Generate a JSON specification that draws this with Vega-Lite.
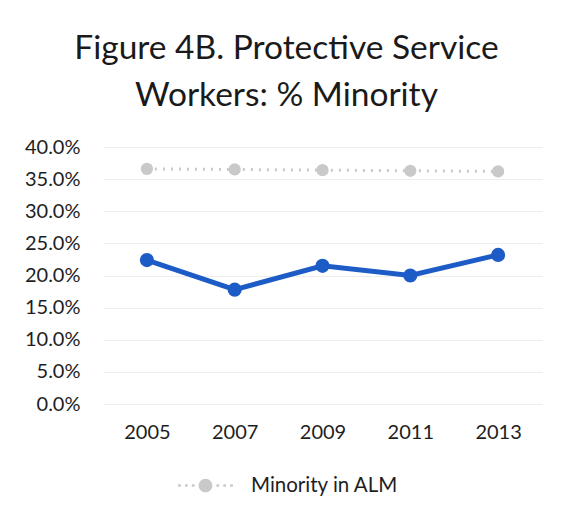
{
  "$schema": "https://vega.github.io/schema/vega-lite/v6.json",
  "width": 439,
  "height": 257,
  "autosize": {"type": "none"},
  "padding": {"left": 103, "top": 147, "right": 23, "bottom": 112},
  "background": "#ffffff",
  "config": {
    "font": "Lato",
    "view": {"stroke": null}
  },
  "title": {
    "text": ["Figure 4B. Protective Service", "Workers: % Minority"],
    "font": "Lato",
    "fontSize": 33.5,
    "fontWeight": "normal",
    "color": "#1a1a1a",
    "lineHeight": 47,
    "anchor": "middle",
    "frame": "group",
    "dx": -36,
    "offset": 24
  },
  "data": {
    "values": [
      {"year": "2005", "series": "Minority in ALM", "value": 0.366},
      {"year": "2007", "series": "Minority in ALM", "value": 0.365},
      {"year": "2009", "series": "Minority in ALM", "value": 0.364},
      {"year": "2011", "series": "Minority in ALM", "value": 0.363},
      {"year": "2013", "series": "Minority in ALM", "value": 0.362},
      {"year": "2005", "series": "Protective Service Workers", "value": 0.224},
      {"year": "2007", "series": "Protective Service Workers", "value": 0.178},
      {"year": "2009", "series": "Protective Service Workers", "value": 0.215},
      {"year": "2011", "series": "Protective Service Workers", "value": 0.200},
      {"year": "2013", "series": "Protective Service Workers", "value": 0.232}
    ]
  },
  "encoding": {
    "x": {
      "field": "year",
      "type": "ordinal",
      "scale": {"type": "point", "padding": 0.5},
      "axis": {
        "title": null,
        "labelAngle": 0,
        "labelFontSize": 20,
        "labelColor": "#1e1e1e",
        "labelPadding": 18,
        "domain": false,
        "ticks": false,
        "grid": false
      }
    },
    "y": {
      "field": "value",
      "type": "quantitative",
      "scale": {"domain": [0, 0.4], "nice": false},
      "axis": {
        "title": null,
        "format": ".1%",
        "values": [0, 0.05, 0.1, 0.15, 0.2, 0.25, 0.3, 0.35, 0.4],
        "labelFontSize": 20,
        "labelColor": "#1e1e1e",
        "labelPadding": 23,
        "domain": false,
        "ticks": false,
        "grid": true,
        "gridColor": "#eeeeee",
        "gridWidth": 1
      }
    }
  },
  "layer": [
    {
      "transform": [{"filter": "datum.series === 'Minority in ALM'"}],
      "mark": {
        "type": "line",
        "strokeWidth": 3,
        "strokeDash": [2, 6],
        "point": {"filled": true, "size": 150, "opacity": 1}
      },
      "encoding": {
        "color": {
          "field": "series",
          "type": "nominal",
          "scale": {"domain": ["Minority in ALM"], "range": ["#c9c9c9"]},
          "legend": {
            "title": null,
            "orient": "none",
            "legendX": 75,
            "legendY": 311,
            "labelFontSize": 20.5,
            "labelColor": "#1e1e1e",
            "labelOffset": 18,
            "symbolType": "M-1,-0.05h0.1v0.1h-0.1z M-0.75,-0.05h0.1v0.1h-0.1z M-0.5,-0.05h0.1v0.1h-0.1z M-0.25,0 A0.25,0.25 0 1,0 0.25,0 A0.25,0.25 0 1,0 -0.25,0 Z M0.4,-0.05h0.1v0.1h-0.1z M0.65,-0.05h0.1v0.1h-0.1z M0.9,-0.05h0.1v0.1h-0.1z",
            "symbolSize": 3000,
            "symbolFillColor": "#c9c9c9",
            "symbolStrokeWidth": 0
          }
        }
      }
    },
    {
      "transform": [{"filter": "datum.series === 'Protective Service Workers'"}],
      "mark": {
        "type": "line",
        "color": "#1d5cc6",
        "strokeWidth": 5,
        "point": {"filled": true, "size": 200, "color": "#1d5cc6", "opacity": 1}
      }
    }
  ]
}
